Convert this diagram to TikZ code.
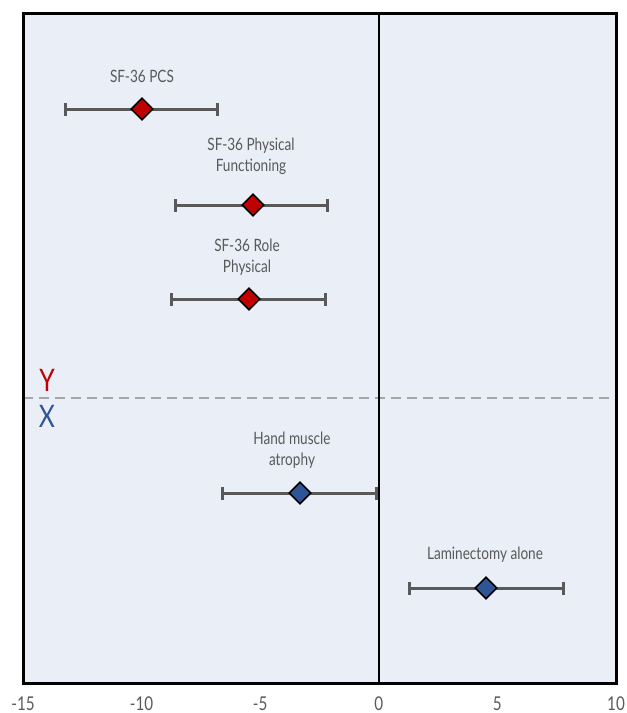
\documentclass[tikz,border=0pt]{standalone}
\usepackage{fontspec}
\setmainfont[FakeStretch=0.8]{Lato}
\usetikzlibrary{shapes.geometric,arrows.meta}
\definecolor{bgblue}{HTML}{E9EEF7}
\definecolor{barcol}{HTML}{595959}
\definecolor{ptred}{HTML}{C00000}
\definecolor{ptblue}{HTML}{2F5597}
\definecolor{txtgray}{HTML}{595959}
\definecolor{dashgray}{HTML}{A6A6A6}
\tikzset{
  ebar/.style={draw=barcol, line width=3pt, {Bar[width=13pt]}-{Bar[width=13pt]}},
  mk/.style={shape=diamond, draw=black, line width=1.6pt, minimum size=22pt, inner sep=0pt, aspect=1},
  redmk/.style={mk, fill=ptred},
  bluemk/.style={mk, fill=ptblue},
  lbl/.style={text=txtgray, font=\fontsize{17}{21}\selectfont, align=center, inner sep=0pt},
  tick/.style={text=txtgray, font=\fontsize{19}{20}\selectfont, inner sep=0pt, anchor=base},
  grp/.style={font=\fontsize{31}{31}\selectfont, inner sep=0pt}
}
\begin{document}
\begin{tikzpicture}[x=1pt,y=-1pt]
\useasboundingbox (0,0) rectangle (627,713);
% plot area
\fill[bgblue] (23,13) rectangle (616,683);
% dashed separator
\draw[dashgray, line width=2pt, dash pattern=on 10pt off 6pt] (23,398) -- (616,398);
% zero line
\draw[black, line width=1.8pt] (378.8,13) -- (378.8,683);
% frame
\draw[black, line width=3pt] (23,13) rectangle (616,683);

% error bars
\coordinate (a1) at (64,109);  \coordinate (a2) at (219,109);
\coordinate (b1) at (174,205); \coordinate (b2) at (329,205);
\coordinate (c1) at (170,299); \coordinate (c2) at (327,299);
\coordinate (d1) at (221,493); \coordinate (d2) at (378,493);
\coordinate (e1) at (408,588); \coordinate (e2) at (565,588);
\draw[ebar] (a1) -- (a2);
\draw[ebar] (b1) -- (b2);
\draw[ebar] (c1) -- (c2);
\draw[ebar] (d1) -- (d2);
\draw[ebar] (e1) -- (e2);

% markers
\node[redmk] (pa) at (142,109) {};
\node[redmk] (pb) at (253,205) {};
\node[redmk] (pc) at (249,299) {};
\node[bluemk] (pd) at (300,493) {};
\node[bluemk] (pe) at (486,588) {};

% labels
\node[lbl] (la) at (142,76) {SF-36 PCS};
\node[lbl] (lb) at (251,156) {SF-36 Physical\\Functioning};
\node[lbl] (lc) at (247,257) {SF-36 Role\\Physical};
\node[lbl] (ld) at (292,450) {Hand muscle\\atrophy};
\node[lbl] (le) at (485,555) {Laminectomy alone};

% group labels
\node[grp, text=ptred] (gy) at (47,380) {Y};
\node[grp, text=ptblue] (gx) at (47,416) {X};

% ticks
\node[tick] (t1) at (23,710) {-15};
\node[tick] (t2) at (141.6,710) {-10};
\node[tick] (t3) at (260.2,710) {-5};
\node[tick] (t4) at (378.8,710) {0};
\node[tick] (t5) at (497.4,710) {5};
\node[tick] (t6) at (616,710) {10};
\end{tikzpicture}
\end{document}
